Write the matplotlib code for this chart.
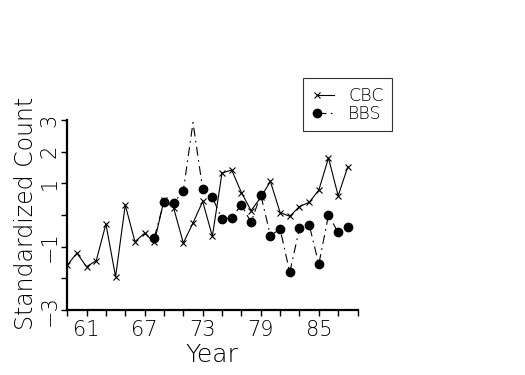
import matplotlib
matplotlib.use("Agg")
import matplotlib.pyplot as plt
from matplotlib import font_manager

# Standardized counts
cbc_years = list(range(59, 89))
cbc = [-1.58, -1.20, -1.63, -1.44, -0.28, -1.95, 0.32, -0.84, -0.57, -0.86,
       0.47, 0.22, -0.88, -0.25, 0.43, -0.67, 1.33, 1.42, 0.71, 0.14,
       0.56, 1.06, 0.08, -0.04, 0.27, 0.40, 0.79, 1.80, 0.61, 1.53]

bbs_years = list(range(68, 89))
bbs = [-0.71, 0.40, 0.37, 0.77, 2.92, 0.82, 0.56, -0.13, -0.08, 0.32,
       -0.23, 0.64, -0.65, -0.44, -1.81, -0.42, -0.30, -1.55, 0.00, -0.55,
       -0.38]

xticks = list(range(59, 90, 2))
xlabels = ["61", "67", "73", "79", "85"]
yticks = [3, 2, 1, 0, -1, -2, -3]
ylabels = ["3", "2", "1", "", "\u22121", "", "\u22123"]

# the reference uses a thin stroke font, pick a light face if one is installed
family, weight = 'DejaVu Sans', 'normal'
for fam in ['DejaVu Sans', 'Roboto', 'Lato', 'Open Sans', 'Inter', 'Noto Sans']:
    ws = [f.weight for f in font_manager.fontManager.ttflist
          if f.name == fam and f.style == 'normal']
    ws = [w for w in ws if isinstance(w, int) and w <= 300]
    if ws:
        family, weight = fam, max(ws)
        break
plt.rcParams['font.family'] = [family, 'DejaVu Sans']
plt.rcParams['font.weight'] = weight
plt.rcParams['axes.labelweight'] = weight

fig = plt.figure(figsize=(5.25, 3.75), dpi=100)
ax = fig.add_axes([0.128, 0.173, 0.553, 0.507])

ax.plot(cbc_years, cbc, color='black', lw=0.8, marker='x', markersize=4.5,
        markeredgewidth=0.8, label='CBC')
# the peak year has no symbol in the reference
no_peak = [i for i in range(len(bbs)) if bbs_years[i] != 72]
ax.plot(bbs_years, bbs, color='black', lw=0.8, dashes=(8, 4, 1.5, 4),
        marker='o', markersize=6, markevery=no_peak, label='BBS')

ax.set_xlim(59, 89)
ax.set_ylim(-3, 3)
ax.set_xticks(xticks)
ax.set_xticklabels([str(t) if str(t) in xlabels else "" for t in xticks])
ax.set_yticks(yticks)
ax.set_yticklabels(ylabels, rotation=90, va='center')

for s in ['top', 'right']:
    ax.spines[s].set_visible(False)
for s in ['left', 'bottom']:
    ax.spines[s].set_linewidth(1.6)
ax.tick_params(direction='out', length=4, width=1, labelsize=15)
ax.tick_params(axis='y', pad=1.5)
ax.tick_params(axis='x', pad=3)

ax.set_xlabel("Year", fontsize=18)
ax.set_ylabel("Standardized Count", fontsize=17)
ax.xaxis.set_label_coords(0.497, -0.172)
ax.yaxis.set_label_coords(-0.10, 0.51)

leg = ax.legend(loc='upper left', bbox_to_anchor=(0.782, 1.267), fontsize=12.5,
                frameon=True, fancybox=False, edgecolor='black', numpoints=2,
                handlelength=1.6, borderpad=0.5, labelspacing=0.0,
                handletextpad=0.5)
leg.get_frame().set_linewidth(0.8)
for ln in leg.get_lines():
    ln.set_markevery([0])

fig.savefig("out.png", dpi=100)
